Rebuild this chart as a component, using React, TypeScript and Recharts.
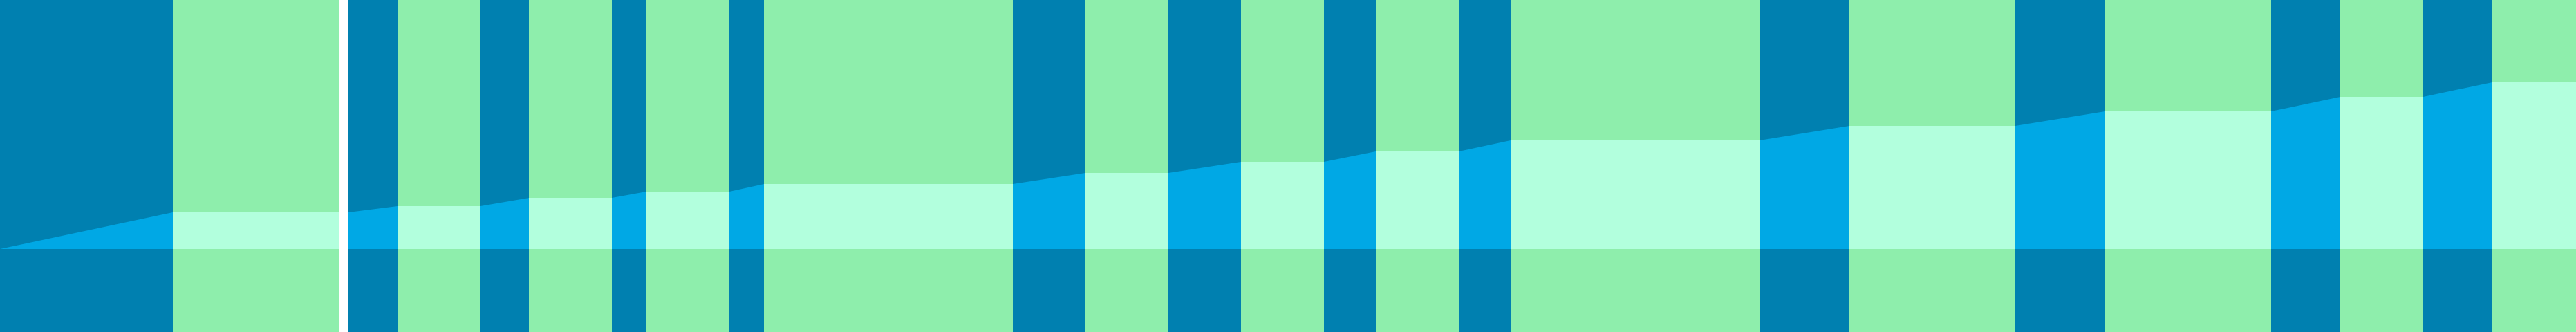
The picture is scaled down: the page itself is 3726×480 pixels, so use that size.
import { ComposedChart, Area, XAxis, YAxis, ReferenceArea } from 'recharts'

// x positions of every change in the curve, and the level reached there
const checkpoints = [
  0, 25, 49.1, 50.4, 57.5, 69.5, 76.5, 88.5, 93.5, 105.5, 110.5, 146.5, 157, 169,
  179.5, 191.5, 199, 211, 218.5, 254.5, 267.5, 291.5, 304.5, 328.5, 338.5, 350.5,
  360.5, 372.6,
]
const levels = [
  0, 53, 53, 53, 62, 62, 74, 74, 83, 83, 94, 94, 110, 110, 126, 126, 141, 141, 157,
  157, 178, 178, 199, 199, 220, 220, 241, 241,
]
// what happens between two checkpoints
const segmentKinds = [
  'rise', 'hold', 'gap',
  'rise', 'hold', 'rise', 'hold', 'rise', 'hold', 'rise', 'hold', 'rise', 'hold',
  'rise', 'hold', 'rise', 'hold', 'rise', 'hold', 'rise', 'hold', 'rise', 'hold',
  'rise', 'hold', 'rise', 'hold',
]

const BAND_COLORS: Record<string, string> = { rise: '#0080B0', hold: '#8EEEAC' }
const FILL_COLORS: Record<string, string> = { rise: '#00A8E5', hold: '#B2FFDD', gap: '#FFFFFF' }

const WIDTH = 3726
const HEIGHT = 480

const data = checkpoints.map((x, i) => ({ x, level: levels[i] }))

const segments = segmentKinds.map((kind, i) => ({
  kind,
  from: checkpoints[i],
  to: checkpoints[i + 1],
}))

const xMin = checkpoints[0]
const xMax = checkpoints[checkpoints.length - 1]

export default function App() {
  return (
    <div style={{ width: WIDTH, height: HEIGHT }}>
      <style>{'body { margin: 0; }'}</style>
      <ComposedChart
        width={WIDTH}
        height={HEIGHT}
        data={data}
        margin={{ top: 0, right: 0, bottom: 0, left: 0 }}
      >
        <defs>
          <linearGradient id="levelFill" x1="0" y1="0" x2="1" y2="0">
            {segments.flatMap((s, i) => [
              <stop
                key={`a${i}`}
                offset={(s.from - xMin) / (xMax - xMin)}
                stopColor={FILL_COLORS[s.kind]}
              />,
              <stop
                key={`b${i}`}
                offset={(s.to - xMin) / (xMax - xMin)}
                stopColor={FILL_COLORS[s.kind]}
              />,
            ])}
          </linearGradient>
        </defs>
        <XAxis type="number" dataKey="x" domain={[xMin, xMax]} hide allowDataOverflow />
        <YAxis type="number" domain={[-120, 360]} hide allowDataOverflow />
        {segments
          .filter((s) => s.kind !== 'gap')
          .map((s, i) => (
            <ReferenceArea
              key={i}
              x1={s.from}
              x2={s.to}
              fill={BAND_COLORS[s.kind]}
              fillOpacity={1}
              stroke="none"
              ifOverflow="extendDomain"
            />
          ))}
        <Area
          type="linear"
          dataKey="level"
          baseValue={0}
          stroke="none"
          fill="url(#levelFill)"
          fillOpacity={1}
          dot={false}
          activeDot={false}
          isAnimationActive={false}
        />
      </ComposedChart>
    </div>
  )
}
